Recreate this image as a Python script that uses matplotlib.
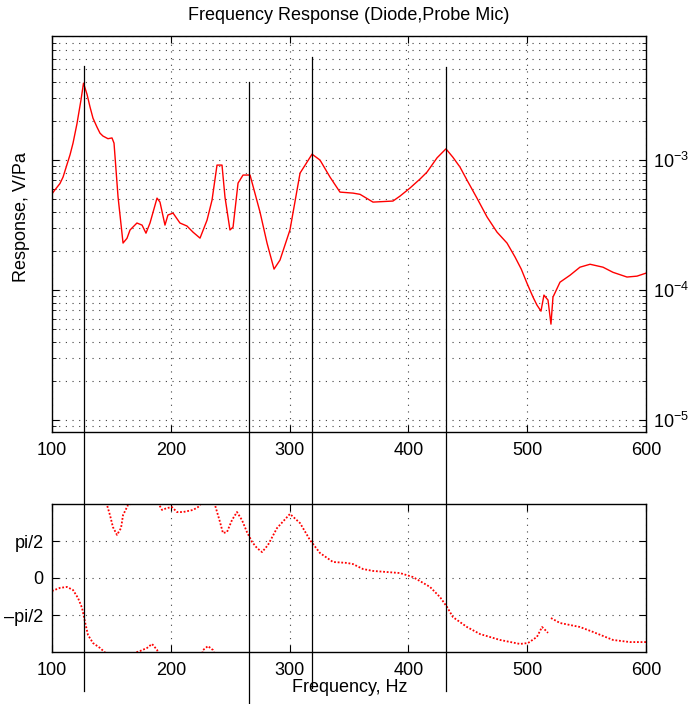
import numpy as np
import matplotlib
matplotlib.use("Agg")
import matplotlib.pyplot as plt
from matplotlib.lines import Line2D
from matplotlib.transforms import blended_transform_factory

plt.rcParams['font.family'] = ['Liberation Sans', 'DejaVu Sans']
plt.rcParams['mathtext.fontset'] = 'custom'
plt.rcParams['mathtext.rm'] = 'Liberation Sans'
plt.rcParams['font.size'] = 13

# magnitude (V/Pa)
freq_mag = [100, 102.5, 106.7, 109.3, 115.2, 117.7, 121.0, 124.4, 126.5, 129.5,
            132.0, 134.5, 137.9, 140.4, 142.9, 147.1, 150.5, 152.2,
            155.6, 159.8, 163.1, 165.7, 171.5, 175.8, 179.1, 182.5, 188.4, 190.9,
            195.1, 197.6, 201.9, 207.7, 213.6, 218.7, 224.6, 230.5, 234.7, 238.9,
            243.1, 245.6, 249.8, 252.4, 256.6, 260.8, 266.7, 275.1, 281.0, 286.9,
            291.9, 300.3, 308.8, 318.9, 325.6, 334.0, 342.4, 353.4, 359.3, 370.2,
            387.0, 392.9, 401.3, 409.8, 415.7, 424.1, 431.6, 437.5, 443.4, 449.3,
            457.7, 466.2, 474.6, 483.0, 489.7, 495.0, 499.8,
            504.9, 508.2, 511.6, 514.1, 517.5, 520.0, 521.7, 527.6, 536.0, 544.4,
            552.9, 563.8, 572.2, 584.0, 592.4, 600]
response = [5.5e-4, 5.9e-4, 6.6e-4, 7.4e-4, 1.1e-3, 1.35e-3, 1.9e-3, 2.9e-3, 3.9e-3, 3.2e-3,
            2.56e-3, 2.1e-3, 1.79e-3, 1.61e-3, 1.53e-3, 1.46e-3, 1.48e-3, 1.35e-3,
            5.2e-4, 2.3e-4, 2.5e-4, 2.9e-4, 3.28e-4, 3.16e-4, 2.74e-4, 3.28e-4, 5.1e-4, 4.75e-4,
            3.16e-4, 3.78e-4, 3.91e-4, 3.28e-4, 3.11e-4, 2.79e-4, 2.51e-4, 3.45e-4, 4.92e-4, 9.15e-4,
            9.15e-4, 5.2e-4, 2.9e-4, 3.05e-4, 6.65e-4, 7.67e-4, 7.67e-4, 3.98e-4, 2.3e-4, 1.45e-4,
            1.7e-4, 2.9e-4, 7.94e-4, 1.11e-3, 1.0e-3, 7.4e-4, 5.67e-4, 5.57e-4, 5.45e-4, 4.75e-4,
            4.84e-4, 5.28e-4, 6.09e-4, 7.15e-4, 8.09e-4, 1.04e-3, 1.22e-3, 1.05e-3, 8.84e-4, 7.02e-4,
            5.1e-4, 3.65e-4, 2.79e-4, 2.3e-4, 1.8e-4, 1.45e-4, 1.13e-4,
            8.83e-5, 7.67e-5, 6.89e-5, 9.15e-5, 8.38e-5, 5.47e-5, 8.83e-5, 1.15e-4, 1.3e-4, 1.5e-4,
            1.58e-4, 1.5e-4, 1.37e-4, 1.26e-4, 1.28e-4, 1.35e-4]

# phase (rad), wrapped to +-pi, nan marks a wrap
nan = np.nan
freq_ph = [100, 106.7, 112.6, 117.7, 121.9, 125.3, 127.8, 130.3, 134.5, 140.4, 145.5, nan,
           145.5, 146.3, 148.8, 151.3, 154.7, 158.1, 159.8, 164.0, 170.0, nan,
           168.2, 174.1, 180.0, 184.2, 188.4, 189.5, nan,
           189.2, 192.6, 196.8, 201.0, 205.2, 210.3, 218.7, 222.9, 226.3, nan,
           226.5, 227.1, 231.3, 235.5, 236.5, nan,
           236.5, 237.2, 241.4, 243.9, 247.3, 251.5, 255.7, 259.9, 264.1, 268.4,
           272.6, 276.8, 281.8, 289.4, 300.3, 308.8, 317.2, 325.6, 336.5, 348.3,
           353.4, 361.8, 370.2, 392.9, 403.9, 418.2, 426.6, 432.5, 437.5, 449.3,
           460.3, 477.1, 493.9, 500.7, 508.2, 512.5, 515.0, 517.5, nan,
           520.0, 527.6, 544.4, 555.4, 572.2, 586.5, 600]
phase = [-0.55, -0.42, -0.38, -0.51, -0.85, -1.27, -1.87, -2.42, -2.76, -2.97, -3.2, nan,
         3.2, 3.10, 2.67, 2.16, 1.83, 2.12, 2.67, 3.10, 3.2, nan,
         -3.2, -3.10, -2.97, -2.80, -3.05, -3.2, nan,
         3.2, 2.89, 2.97, 3.01, 2.80, 2.80, 2.89, 3.01, 3.2, nan,
         -3.2, -3.06, -2.89, -3.06, -3.2, nan,
         3.2, 3.10, 2.38, 1.91, 1.95, 2.46, 2.80, 2.46, 1.95, 1.53,
         1.27, 1.10, 1.40, 2.12, 2.72, 2.33, 1.61, 1.06, 0.68, 0.64,
         0.59, 0.38, 0.30, 0.21, 0.04, -0.38, -0.81, -1.23, -1.66, -2.08,
         -2.38, -2.63, -2.80, -2.76, -2.50, -2.08, -2.2, -2.33, nan,
         -1.70, -1.91, -2.08, -2.29, -2.63, -2.72, -2.72]

# resonance markers (Hz) and their extents in figure pixels (top, bottom)
marker_hz = [127, 266, 319, 432]
marker_top = [66, 82, 57, 67]
marker_bot = [691, 704, 688, 691]

W, H = 689, 704
fig = plt.figure(figsize=(W / 100, H / 100), dpi=100)
ax1 = fig.add_axes([52 / W, 1 - 432 / H, 594 / W, 396 / H])
ax2 = fig.add_axes([52 / W, 1 - 652 / H, 594 / W, 148 / H])

grid_kw = dict(color='0.25', linestyle=(0, (1, 5)), linewidth=0.8)

ax1.plot(freq_mag, response, color='red', lw=1)
ax1.set_yscale('log')
ax1.set_xlim(100, 600)
ax1.set_ylim(8.1e-6, 9e-3)
ax1.set_xticks([100, 200, 300, 400, 500, 600])
ax1.grid(True, which='both', **grid_kw)
ax1.tick_params(which='both', direction='in', top=True, bottom=True, left=True, right=True,
                labelleft=False, labelright=True)
ax1.tick_params(which='major', length=5)
ax1.tick_params(which='minor', length=3)
ax1.tick_params(axis='x', pad=7)
ax1.tick_params(axis='y', pad=5)

ax2.plot(freq_ph, phase, color='red', linestyle=(0, (1, 1)), lw=1.3)
ax2.set_xlim(100, 600)
ax2.set_ylim(-np.pi, np.pi)
ax2.set_xticks([100, 200, 300, 400, 500, 600])
ax2.set_yticks([-np.pi / 2, 0, np.pi / 2])
ax2.set_yticklabels(['\u2013pi/2', '0', 'pi/2'])
ax2.grid(True, **grid_kw)
ax2.tick_params(direction='in', top=True, bottom=True, left=True, right=True, length=5)
ax2.tick_params(axis='x', pad=7)
ax2.tick_params(axis='y', pad=6)

for ax in (ax1, ax2):
    for s in ax.spines.values():
        s.set_linewidth(1.0)

fig.text(349 / W, 1 - 16 / H, 'Frequency Response (Diode,Probe Mic)', ha='center', va='center', fontsize=13)
fig.text(22 / W, 1 - 217 / H, 'Response, V/Pa', rotation=90, ha='center', va='center', fontsize=13)
fig.text(350 / W, 1 - 688 / H, 'Frequency, Hz', ha='center', va='center', fontsize=13)

trans = blended_transform_factory(ax1.transData, fig.transFigure)
for f, t, b in zip(marker_hz, marker_top, marker_bot):
    fig.add_artist(Line2D([f, f], [1 - t / H, 1 - b / H], transform=trans, color='k', lw=0.9))

fig.savefig('out.png', dpi=100)
